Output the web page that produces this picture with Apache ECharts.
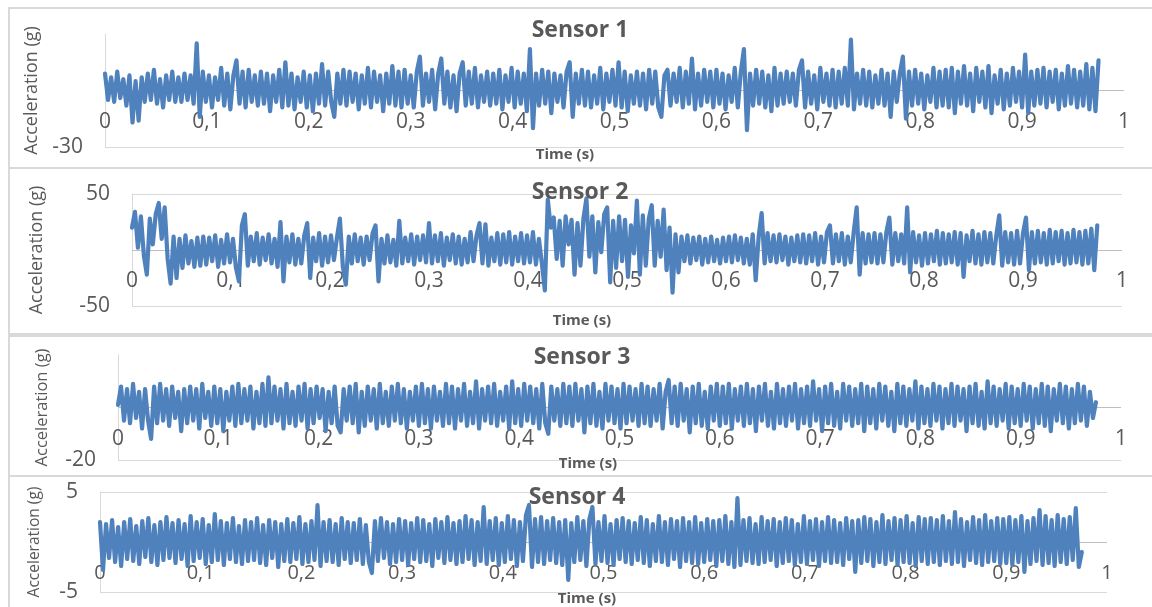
<!DOCTYPE html>
<html>
<head>
<meta charset="utf-8">
<script src="https://cdn.jsdelivr.net/npm/echarts@6/dist/echarts.min.js"></script>
<style>
  html, body { margin: 0; padding: 0; background: #fff; overflow: hidden; }
  .frame { position: absolute; left: 8px; width: 1160px; border: 2px solid #d9d9d9; box-sizing: border-box; }
  #chart { position: absolute; left: 0; top: 0; width: 1152px; height: 607px; }
</style>
</head>
<body>
<div class="frame" style="top:7px;height:162px"></div>
<div class="frame" style="top:167px;height:168px"></div>
<div class="frame" style="top:335px;height:142px"></div>
<div class="frame" style="top:475px;height:140px"></div>
<div id="chart"></div>
<script>
// sample spacing of the recorded signals (s)
const timeStep = 0.003;
const timeTicks = ['0', '0,1', '0,2', '0,3', '0,4', '0,5', '0,6', '0,7', '0,8', '0,9', '1'];

const sensor1Ticks = [-30];
const sensor2Ticks = [-50, 50];
const sensor3Ticks = [-20];
const sensor4Ticks = [-5, 5];

const sensor1 = [
  9, -5, 7, -6, 10, -4, 6, -8, 8, -17, 5, -16, 7, -6, 9, -5, 11, -7, 6, -9, 8, -5, 10, -6, 7,
  -6, 9, -5, 8, -7, 25, -14, 10, -6, 8, -9, 7, -5, 12, -8, 9, -10, 8, 16, -7, 10, -9, 11, -6, 8,
  -8, 10, -7, 9, -11, 8, -6, 11, -9, 15, -8, 9, -10, 7, -6, 10, -9, 8, -11, 9, -7, 14, -8, 10, -6,
  -14, 9, -7, 11, -8, 10, -6, 9, -10, 8, -7, 12, -9, 10, -6, 8, -11, 9, -7, 13, -8, 10, -9, 11, -7,
  8, -9, 10, 18, -8, 9, -6, 11, -10, 9, 17, -7, 10, -9, 8, -11, 9, 15, -8, 10, -7, 12, -9, 8, -6,
  10, -8, 9, -7, 11, -10, 8, -6, 12, -9, 10, -7, 9, -11, 22, -20, 9, -8, 11, -7, 10, -12, 9, -6, 8,
  -9, 10, 15, -14, 9, -7, 11, -8, 10, -9, 8, -7, 12, -10, 9, -6, 11, -8, 15, -9, 10, -11, 8, -7, 10,
  -8, 9, -10, 11, -7, 10, -9, -14, 8, 11, -8, 9, -6, 12, -9, 10, -7, 17, -10, 9, -8, 11, -6, 10, -9,
  11, -7, 9, -10, 8, -6, 12, -9, 10, 22, -21, 9, -8, 11, -7, 10, -9, 8, -11, 12, -8, 9, -7, 10, -6,
  9, -8, 11, 16, -9, 10, -7, 8, -10, 12, -6, 9, -8, 11, -9, 10, -7, 12, -8, 27, -10, 9, -7, 11, -8,
  10, -9, 8, -7, 11, -8, 9, -14, 10, -6, 9, 18, -15, 10, -8, 11, -7, 9, -10, 8, -6, 12, -9, 10, -8,
  11, -9, 12, -12, 10, -7, 13, -8, 9, -11, 12, -6, 10, -9, 13, -12, 8, -7, 11, -10, 9, -8, 12, -6, 10,
  -9, 19, -12, 10, -8, 11, -7, 12, -9, 10, -6, 11, -10, 9, -8, 13, -7, 11, -9, 10, -8, 14, -10, 12, -11,
  16
];

const sensor2 = [
  20, 34, 2, 30, -5, -22, 28, 5, 32, 42, 10, 38, -8, -30, 12, -25, 10, -16, 13, -12, 8, -15, 11, -14, 12,
  -13, 11, -10, 13, -15, 9, -12, 14, -11, 10, -16, -28, 22, 32, -14, 12, -10, 15, -13, 11, -9, 14, -12, 10, -15,
  25, -28, 12, -11, 14, -13, 10, -12, 13, 24, -25, 11, -10, 15, -14, 12, -11, 13, -9, 11, 28, -15, -31, 12, -12,
  14, -10, 11, -13, 12, -9, 15, 22, -28, 10, -12, 13, -11, 9, -14, 26, -12, 11, -10, 14, -13, 12, -9, 13, -11,
  24, -12, 13, -10, 15, -14, 11, -9, 14, -12, 12, -13, 10, -11, 16, -10, 13, 24, -12, 23, -14, 11, -10, 15, -13,
  14, -11, 16, -13, 12, -10, 15, -12, 13, -11, 16, -13, 10, -12, -36, 45, 20, 29, -8, 26, -14, 30, 5, 27, -22,
  24, -14, 28, 46, -6, 30, -20, 25, -2, 32, 38, -29, 26, -16, 30, -10, 27, -24, 22, -3, 44, -22, 31, -14, 28,
  40, -14, 26, -6, 36, -18, 20, -38, 14, -20, 12, -10, 13, -12, 11, -9, 12, -13, 10, -11, 12, -10, 9, -12, 11,
  -10, 12, -11, 13, -9, 11, -12, 10, -13, 14, -27, 12, 33, -12, 15, -10, 13, -11, 14, -9, 12, -13, 11, -10, 13,
  -11, 14, -12, 13, -10, 15, -13, 12, -11, 16, 22, -12, 14, -10, 15, -13, 12, -11, 16, 38, -22, 15, -12, 14, -11,
  15, -12, 14, -11, 16, 29, -13, 15, -10, 14, -12, 38, -20, 16, -11, 13, -14, 15, -12, 14, -10, 17, -13, 15, -12,
  14, -11, 16, -13, 15, -24, 13, -10, 17, -12, 14, -13, 16, -11, 15, -12, 13, 31, -14, 16, -11, 15, -13, 17, -12,
  15, 29, -18, 16, -12, 17, -11, 15, -13, 18, -12, 16, -10, 17, -13, 15, -12, 18, -11, 16, -13, 17, -12, 19, -18,
  22
];

const sensor3 = [
  1, 8, -5, 7, -6, 9, -4, 6, -8, 7, -5, -12, 8, -6, 9, -5, 7, -7, 8, -4, 6, -9, 7, -6, 8,
  -5, 7, -8, 9, -4, 6, -7, 8, -6, 7, -9, 6, -5, 8, -7, 9, -6, 7, -5, 8, -8, 6, -6, 9, -7,
  11.5, -6, 8, -5, 7, -8, 9, -6, 6, -7, 8, -5, 9, -8, 7, -6, 8, -4, 7, -9, 6, -6, 8, -7, -9.5,
  7, -5, 8, -6, 9, -9.5, 6, -7, 8, -5, 7, -8, 9, -6, 6, -7, 8, -5, 9, -6, 7, -8, 6, -5, 8,
  -7, 9, -6, 7, -8, 8, -5, 6, -7, 9, -6, 8, -8, 7, -5, 9, -7, 6, -6, 10, -8, 7, -5, 8, -6,
  9, -7, 6, -5, 8, -8, 10, -6, 7, -7, 9, -5, 8, -6, 7, -8, 9, -6, -10, 8, -5, 7, -7, 9, -6,
  8, -7, 9, -5, 7, -9.5, 8, -6, 9, -7, 6, -8, 9, -5, 8, -6, 7, -8, 9, -6, 8, -5, 7, -7, 9,
  -6, 8, -7, 7, -5, 9, -8, 6, 10.5, -6, 8, -7, 9, -5, 7, -9.5, 8, -6, 9, -7, 6, -8, 8, -5, 9,
  -7, 8, -6, 9, -8, 7, -5, 8, -7, 9, -6, 7, -9, 8, -5, 9, -7, 6, -8, 9, -6, 7, -7, 8, -5,
  9, -8, 7, -6, 8, -7, 10, -5, 7, -9, 8, -6, 9, -7, 6, -8, 9, -5, 8, -7, 7, -6, 9, -9, 8,
  -6, 7, -8, 9, -5, 8, -7, 6, -9, 9, -6, 8, -7, 7, -5, 10, -8, 8, -6, 7, -7, 9, -5, 8, -8,
  7, -6, 9, -7, 8, -5, 7, -9, 8, -6, 9, -7, 6, -8, 10, -6, 8, -7, 7, -5, 9, -8, 8, -6, 7,
  -7, 9, -5, 8, -8, 7, -6, 9, -7, 8, -9, 7, -5, 9, -6, 8, -8, 7, -6, 9, -5, 8, -7, 6, -4,
  2
];

const sensor4 = [
  2, -2.8, 1.8, -1.6, 2.2, -2, 1.5, -2.4, 2, -1.7, 2.3, -1.9, 1.6, -2.2, 2.1, -1.5, 2.4, -2, 1.7, -2.3, 2, -1.8, 2.5, -1.6, 1.9,
  -2.1, 2.2, -1.7, 1.8, -2.4, 2.6, -1.9, 2, -1.6, 2.3, -2.2, 1.7, -2, 2.8, -1.8, 2.1, -2.3, 1.9, -1.7, 2.4, -2, 1.6, -2.2, 2.2, -1.9,
  2, -1.8, 2.4, -2.1, 1.7, -2.3, 2.2, -1.6, 2, -2.5, 1.8, -1.9, 2.3, -2, 1.9, -1.7, 2.5, -2.2, 1.8, -2, 2.1, -1.8, 3.7, -2.4, 2,
  -1.9, 2.2, -2, 1.8, -2.3, 2.4, -1.7, 2, -2.1, 1.9, -1.8, 2.3, -2.2, 1.7, -2, -3.1, 2.1, -1.9, 2.4, -1.6, 2, -2.2, 1.8, -2, 2.3,
  -1.8, 2.1, -2.3, 1.9, -1.7, 2.4, -2, 2.2, -1.9, 1.8, -2.4, 2.3, -1.6, 2, -2.1, 2.5, -1.8, 1.9, -2.2, 2.1, -2, 2.6, -1.7, 2.2, -2.3,
  2, -1.9, 3.5, -2.2, 2.1, -1.8, 2.4, -2.3, 1.9, -2, 2.6, -1.7, 2.2, -2.4, 2, -1.9, 2.7, 3.7, -2.5, 2.3, -2, 2.5, -2.2, 2.1, -1.8,
  2.4, -2.1, 2, -2.3, 2.2, -3.8, 1.9, -2, 2.5, -1.8, 2.1, -2.4, 2.3, 3.5, -2.2, 2, -1.9, 2.6, -2.1, 1.8, -2.3, 2.2, -1.7, 2.4, -2,
  2.1, -2.2, 1.9, -1.8, 2.5, -2.1, 2.2, -2.4, 1.8, -1.9, 2.6, -2, 2, -2.3, 2.3, -1.7, 2.1, -2.5, 2.4, -1.9, 2, -2.1, 2.5, -2.2, 1.9,
  -2, 2.3, -1.8, 2.1, -2.4, 2.2, -1.9, 2.6, -2.2, 2, -2.5, 4.4, -2.3, 2.2, -1.9, 2.4, -2.1, 1.8, -2.2, 2.5, -2, 2.1, -1.8, 2.3, -2.4,
  2, -2.1, 2.4, -1.9, 2.2, -2.3, 1.8, -2, 2.6, -2.2, 2.1, -1.8, 2.3, -2.4, 2, -1.9, 2.5, -2.1, 2.2, -2, 1.9, -2.3, 2.4, -1.7, 2.1,
  -3, 2.2, -2.1, 2.5, -1.9, 2.3, -2.4, 2, -2, 2.7, -2.2, 2.1, -1.8, 2.4, -2.3, 2.2, -2, 2.6, -2.1, 1.9, -2.4, 2.5, -1.9, 2.3, -2.2,
  2.4, -2, 2.2, -2.3, 2.6, -1.9, 2.1, -2.2, 3, -2, 2.3, -2.4, 2, -1.8, 2.5, -2.1, 2.2, -2.3, 2.7, -2, 2.1, -1.9, 2.4, -2.2, 2.3,
  -2.1, 2.5, -2.3, 2.2, -2, 2.6, -3, 2.1, -2.2, 2.4, -1.9, 3.2, -2.3, 2.6, -2.1, 2.2, -2.4, 2.7, -2, 2.3, -2.2, 2.5, -1.8, 3.4, -2.5,
  -1
];

const FONT = '"Open Sans", "Liberation Sans", sans-serif';
const TEXT = '#595959';

// zeroGap: pixels from the zero line down to the bottom of the plot
const panels = [
  { title: 'Sensor 1', values: sensor1, ticks: sensor1Ticks, min: -30, max: 30, showTop: false,
    grid: { left: 105, top: 34, width: 1019, height: 113 }, zeroGap: 56, nameGap: 60, nameSize: 18, labelSize: 21,
    titlePos: [580, 30], timePos: [565, 155] },
  { title: 'Sensor 2', values: sensor2, ticks: sensor2Ticks, min: -50, max: 50, showTop: true,
    grid: { left: 132, top: 194, width: 990, height: 112 }, zeroGap: 56, nameGap: 86, nameSize: 18, labelSize: 21,
    titlePos: [580, 192], timePos: [582, 321] },
  { title: 'Sensor 3', values: sensor3, ticks: sensor3Ticks, min: -20, max: 20, showTop: false,
    grid: { left: 118, top: 355, width: 1003, height: 105 }, zeroGap: 52, nameGap: 67, nameSize: 16.5, labelSize: 21,
    titlePos: [582, 357], timePos: [588, 464] },
  { title: 'Sensor 4', values: sensor4, ticks: sensor4Ticks, min: -5, max: 5, showTop: true,
    grid: { left: 100, top: 492, width: 1007, height: 100 }, zeroGap: 50, nameGap: 57, nameSize: 15.5, labelSize: 20,
    titlePos: [577, 497], timePos: [587, 599] },
];

const toPairs = (values) => values.map((v, i) => [Number((i * timeStep).toFixed(3)), v]);

const chart = echarts.init(document.getElementById('chart'), null, { renderer: 'canvas' });

const option = {
  animation: false,
  grid: panels.map((p) => ({ ...p.grid, containLabel: false })),
  xAxis: panels.map((p, i) => ({
    type: 'value',
    gridIndex: i,
    min: 0,
    max: 1,
    interval: 0.1,
    axisLine: { show: false, onZero: false },
    axisTick: { show: false },
    splitLine: { show: false },
    axisLabel: {
      // labels sit just under the zero line, as in the Excel original
      margin: 21 - p.zeroGap,
      fontSize: p.labelSize,
      color: TEXT,
      fontFamily: FONT,
      showMinLabel: true,
      showMaxLabel: true,
      formatter: (v) => timeTicks[Math.round(v * 10)],
    },
  })),
  yAxis: panels.map((p, i) => ({
    type: 'value',
    gridIndex: i,
    min: p.min,
    max: p.max,
    interval: p.max,
    name: 'Acceleration (g)',
    nameLocation: 'middle',
    nameGap: p.nameGap,
    nameTextStyle: { fontSize: p.nameSize, color: TEXT, fontFamily: FONT },
    axisLine: { show: true, onZero: false, lineStyle: { color: '#d9d9d9', width: 1 } },
    axisTick: { show: false },
    splitLine: { show: true, showMaxLine: p.showTop, lineStyle: { color: '#d9d9d9', width: 1 } },
    axisLabel: {
      margin: 22,
      fontSize: 21,
      color: TEXT,
      fontFamily: FONT,
      formatter: (v) => (p.ticks.includes(v) ? String(v) : ''),
    },
  })),
  series: panels.map((p, i) => ({
    name: p.title,
    type: 'line',
    xAxisIndex: i,
    yAxisIndex: i,
    showSymbol: false,
    sampling: 'none',
    z: 3,
    lineStyle: { color: '#4f81bd', width: 4.2, join: 'round', cap: 'round' },
    markLine: {
      silent: true,
      symbol: 'none',
      label: { show: false },
      z: 1,
      lineStyle: { color: '#bfbfbf', width: 1, type: 'solid' },
      data: [{ yAxis: 0 }],
    },
    data: toPairs(p.values),
  })),
  graphic: panels.flatMap((p) => [
    {
      type: 'text', x: p.titlePos[0], y: p.titlePos[1], z: 100,
      style: { text: p.title, align: 'center', verticalAlign: 'middle', fontSize: 23, fontWeight: 'bold', fill: TEXT, fontFamily: FONT },
    },
    {
      type: 'text', x: p.timePos[0], y: p.timePos[1], z: 100,
      style: { text: 'Time (s)', align: 'center', verticalAlign: 'middle', fontSize: 15, fontWeight: 'bold', fill: TEXT, fontFamily: FONT },
    },
  ]),
};

chart.setOption(option);
</script>
</body>
</html>
